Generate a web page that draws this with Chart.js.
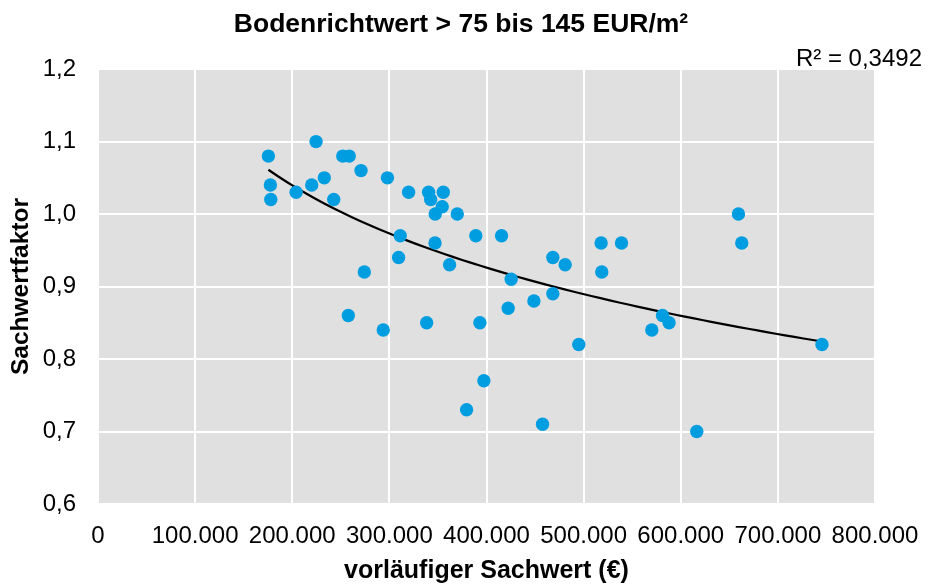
<!DOCTYPE html>
<html>
<head>
<meta charset="utf-8">
<script src="https://cdn.jsdelivr.net/npm/chart.js@4.4.1/dist/chart.umd.min.js"></script>
<style>
html,body{margin:0;padding:0;background:#fff;}
#c{display:block;}
</style>
</head>
<body>
<canvas id="c" width="928" height="584"></canvas>
<script>
// ---- data ----
const sachwert = [175400,177500,177900,204000,220000,224500,233000,242700,252000,258700,
  257700,270800,274200,293700,298000,309500,311200,319800,338400,340400,
  342500,347200,347000,354400,355500,362000,369900,379500,389000,393200,
  397300,415500,422300,425400,448800,457700,468300,468300,481000,495000,
  518000,518700,539000,570200,581200,588000,616500,659400,662800,745400];
const sachwertfaktor = [1.08,1.04,1.02,1.03,1.04,1.10,1.05,1.02,1.08,1.08,
  0.86,1.06,0.92,0.84,1.05,0.94,0.97,1.03,0.85,1.03,
  1.02,1.00,0.96,1.01,1.03,0.93,1.00,0.73,0.97,0.85,
  0.77,0.97,0.87,0.91,0.88,0.71,0.94,0.89,0.93,0.82,
  0.96,0.92,0.96,0.84,0.86,0.85,0.70,1.00,0.96,0.82];
// logarithmic trendline y = a*ln(x) + b
const TREND_A = -0.1638;
const TREND_B = 3.039;
const R2_TEXT = 'R² = 0,3492';
const xTickLabels = ['0','100.000','200.000','300.000','400.000','500.000','600.000','700.000','800.000'];
const yTickLabels = ['0,6','0,7','0,8','0,9','1,0','1,1','1,2'];
const chartTitle = 'Bodenrichtwert > 75 bis 145 EUR/m²';
const xTitle = 'vorläufiger Sachwert (€)';
const yTitle = 'Sachwertfaktor';

const points = sachwert.map((x,i)=>({x:x, y:sachwertfaktor[i]}));
const xMin = Math.min(...sachwert), xMax = Math.max(...sachwert);
const trend = [];
const N = 60;
for (let i=0;i<=N;i++){
  const x = xMin + (xMax-xMin)*i/N;
  trend.push({x:x, y:TREND_A*Math.log(x)+TREND_B});
}

const FONT = '"Liberation Sans", Arial, sans-serif';

const bgPlugin = {
  id:'plotBg',
  beforeDraw(chart){
    const {ctx, chartArea:a} = chart;
    ctx.save();
    ctx.fillStyle = '#e0e0e0';
    ctx.fillRect(a.left, a.top, a.right-a.left, a.bottom-a.top);
    ctx.restore();
  }
};

new Chart(document.getElementById('c'), {
  type:'scatter',
  data:{
    datasets:[
      {label:'Sachwertfaktor', data:points, backgroundColor:'#009ee0', borderWidth:0,
       pointRadius:6.7, pointHoverRadius:6.7},
      {label:'Trend', type:'line', data:trend, showLine:true, borderColor:'#000',
       borderWidth:2.2, pointRadius:0, fill:false, tension:0}
    ]
  },
  options:{
    responsive:false,
    animation:false,
    events:[],
    layout:{padding:{left:0,right:6,top:0,bottom:0}},
    plugins:{
      legend:{display:false},
      tooltip:{enabled:false},
      title:{display:true, text:chartTitle, color:'#000',
        font:{family:FONT, size:26.5, weight:'bold', lineHeight:1.2},
        padding:{top:8.5,bottom:9}},
      subtitle:{display:true, text:R2_TEXT, align:'end', color:'#000',
        font:{family:FONT, size:24, weight:'normal', lineHeight:0.8},
        padding:{top:0,bottom:0.6}}
    },
    scales:{
      x:{type:'linear', min:0, max:800000,
        border:{display:false},
        grid:{color:'#ffffff', lineWidth:2, drawTicks:false},
        ticks:{stepSize:100000, padding:18, color:'#000', maxRotation:0, autoSkip:false,
          font:{family:FONT, size:24},
          callback:(v,i)=>xTickLabels[i]},
        title:{display:true, text:xTitle, color:'#000',
          font:{family:FONT, size:25, weight:'bold', lineHeight:1.0},
          padding:{top:0,bottom:0}},
        afterFit(s){ s.height = 80; s.paddingRight = 53; }
      },
      y:{type:'linear', min:0.6, max:1.2,
        border:{display:false},
        grid:{color:'#ffffff', lineWidth:2, drawTicks:false},
        ticks:{stepSize:0.1, padding:22, color:'#000', autoSkip:false,
          font:{family:FONT, size:24},
          callback:(v,i)=>yTickLabels[i]},
        title:{display:true, text:yTitle, color:'#000',
          font:{family:FONT, size:24.5, weight:'bold', lineHeight:1.2},
          padding:{top:7,bottom:0}},
        afterFit(s){ s.width = 98; }
      }
    }
  },
  plugins:[bgPlugin]
});
</script>
</body>
</html>
